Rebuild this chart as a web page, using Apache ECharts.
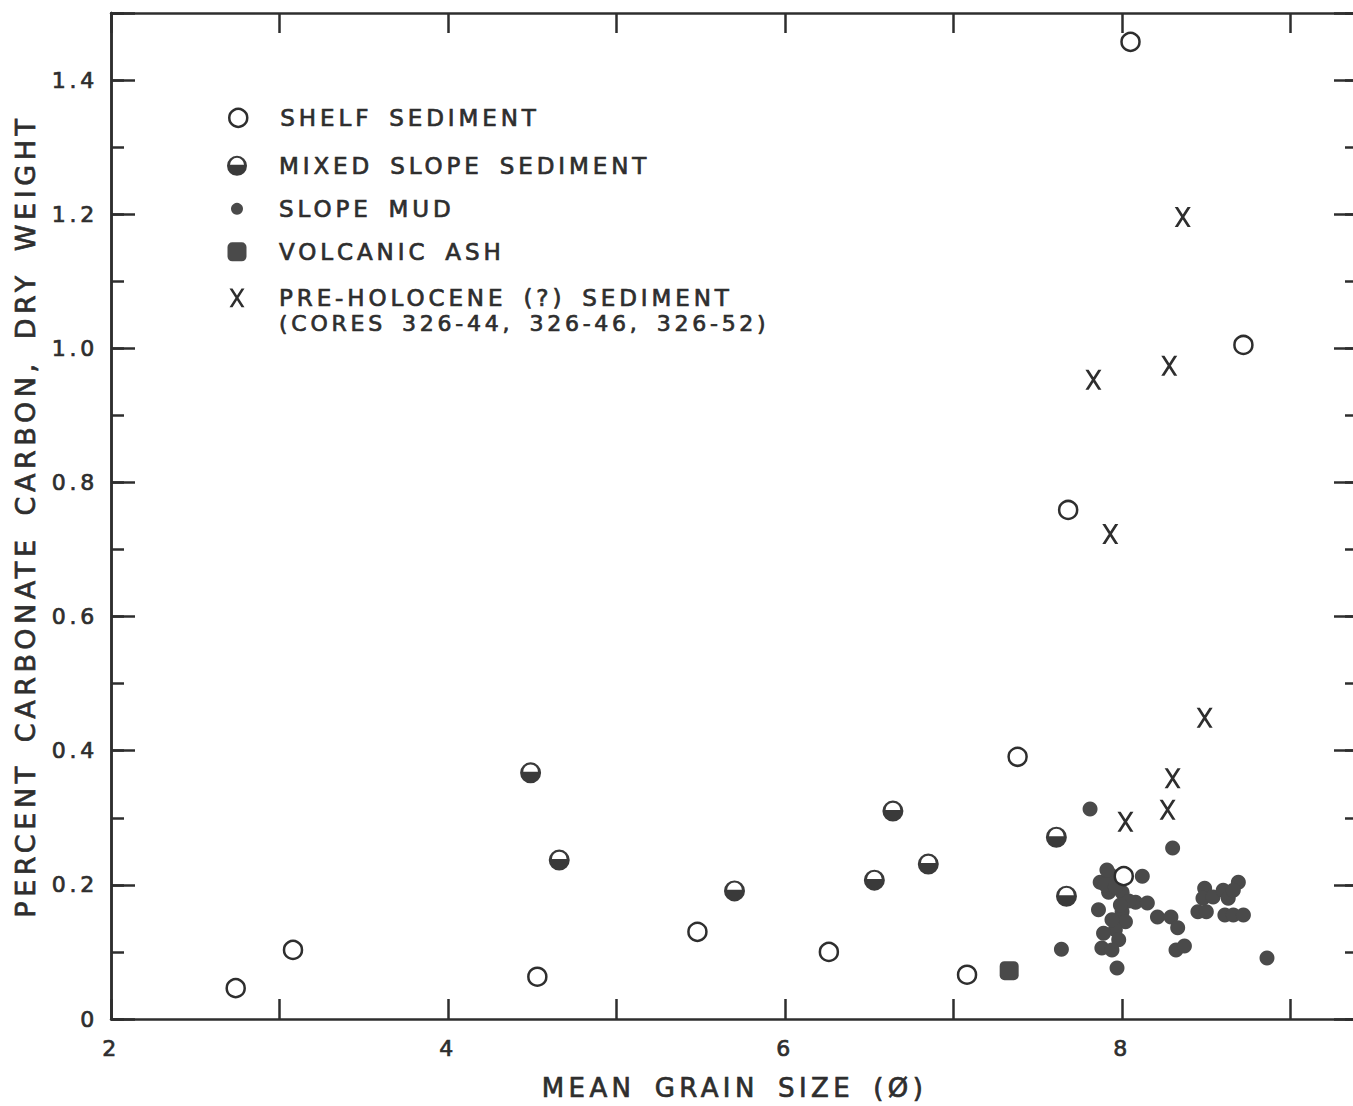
<!DOCTYPE html>
<html>
<head>
<meta charset="utf-8">
<title>Carbonate carbon vs mean grain size</title>
<script src="https://cdn.jsdelivr.net/npm/echarts@6.0.0/dist/echarts.min.js"></script>
<style>
	html, body { margin: 0; padding: 0; background: #fff; }
	#chart { width: 1353px; height: 1106px; }
	/* hand-lettered look: wide letter spacing (svg renderer) */
	#chart text { letter-spacing: 0.17em; word-spacing: 0.25em; }
</style>
</head>
<body>
<div id="chart"></div>
<script>
// ---- data (mean grain size in phi, percent carbonate carbon) ----
var shelfSediment = [
	[2.74, 0.046], [3.08, 0.103], [4.53, 0.063], [5.48, 0.130], [6.26, 0.100],
	[7.08, 0.066], [7.38, 0.391], [7.68, 0.759], [8.01, 0.213], [8.05, 1.457],
	[8.72, 1.005]
];
var mixedSlopeSediment = [
	[4.49, 0.367], [4.66, 0.237], [5.70, 0.191], [6.53, 0.207], [6.64, 0.310],
	[6.85, 0.231], [7.61, 0.271], [7.67, 0.183]
];
var slopeMud = [
	[7.81, 0.313], [8.30, 0.255], [7.64, 0.104], [7.97, 0.076], [8.86, 0.091],
	[7.87, 0.204], [7.93, 0.215], [7.91, 0.222], [7.92, 0.189], [8.00, 0.189],
	[8.12, 0.213], [7.86, 0.163], [8.08, 0.174], [8.15, 0.173], [8.21, 0.152],
	[8.29, 0.152], [8.33, 0.136], [8.00, 0.160], [8.02, 0.145], [7.96, 0.133],
	[7.89, 0.128], [7.98, 0.118], [7.88, 0.106], [7.94, 0.103], [7.94, 0.148],
	[8.32, 0.103], [8.37, 0.109], [8.49, 0.195], [8.48, 0.180], [8.54, 0.182],
	[8.45, 0.160], [8.50, 0.160], [8.60, 0.192], [8.63, 0.180], [8.69, 0.204],
	[8.66, 0.192], [8.61, 0.155], [8.66, 0.155], [8.72, 0.155], [7.90, 0.200],
	[7.96, 0.197], [8.04, 0.176], [7.99, 0.170]
];
var volcanicAsh = [
	[7.33, 0.072]
];
var preHolocene = [
	[8.36, 1.196], [7.83, 0.953], [8.28, 0.974], [7.93, 0.723], [8.49, 0.449],
	[8.30, 0.359], [8.27, 0.312], [8.02, 0.294]
];

var xLabelValues = [2, 4, 6, 8];
var yLabelValues = [0, 0.2, 0.4, 0.6, 0.8, 1.0, 1.2, 1.4];
var yLabelTexts = ['0', '0.2', '0.4', '0.6', '0.8', '1.0', '1.2', '1.4'];

var names = {
	shelf : 'SHELF SEDIMENT',
	mixed : 'MIXED SLOPE SEDIMENT',
	mud : 'SLOPE MUD',
	ash : 'VOLCANIC ASH',
	pre : 'PRE-HOLOCENE (?) SEDIMENT'
};
var preNote = '(CORES 326-44, 326-46, 326-52)';

// ---- styles ----
var FONT = 'DejaVu Sans';
var INK = '#2e2e2e';
var FILL = '#4a4a4a';
var TB = 0.7; // thin outline to thicken the lettering
// dark disc with the upper half left white
var MIXED_SYMBOL = 'path://M0,10A10,10,0,1,1,20,10A10,10,0,1,1,0,10Z M3,9L17,9A7,7,0,0,0,3,9Z';
// lettered "X"
var X_SYMBOL = 'path://M0,0L20,0L100,125L80,125Z M80,0L100,0L20,125L0,125Z';

function xLabel(v) {
	return xLabelValues.indexOf(v) >= 0 ? String(v) : '';
}
function yLabel(v) {
	for (var i = 0; i < yLabelValues.length; i++) {
		if (Math.abs(v - yLabelValues[i]) < 1e-6) {
			return yLabelTexts[i];
		}
	}
	return '';
}

var lineStyle = { color : INK, width : 2.5 };

function xAxisDef(pos) {
	return {
		type : 'value',
		position : pos,
		min : 2,
		max : 9.4,
		interval : 1,
		name : pos == 'bottom' ? 'MEAN GRAIN SIZE (\u00D8)' : '',
		nameLocation : 'middle',
		nameGap : 56,
		nameTextStyle : { fontFamily : FONT, fontSize : 26, color : INK, textBorderColor : INK, textBorderWidth : TB },
		axisLine : { onZero : false, lineStyle : lineStyle },
		axisTick : { inside : true, length : 20, lineStyle : lineStyle },
		axisLabel : {
			show : pos == 'bottom',
			margin : 18,
			fontFamily : FONT,
			fontSize : 22,
			color : INK,
			textBorderColor : INK,
			textBorderWidth : TB,
			formatter : xLabel
		},
		splitLine : { show : false }
	};
}

function yAxisDef(pos, step, tickLen, withLabels) {
	return {
		type : 'value',
		position : pos,
		min : 0,
		max : 1.5,
		interval : step,
		name : withLabels ? 'PERCENT CARBONATE CARBON, DRY WEIGHT' : '',
		nameLocation : 'middle',
		nameGap : 72,
		nameTextStyle : { fontFamily : FONT, fontSize : 27, color : INK, textBorderColor : INK, textBorderWidth : TB },
		axisLine : { onZero : false, lineStyle : lineStyle },
		axisTick : { inside : true, length : tickLen, lineStyle : lineStyle },
		axisLabel : {
			show : withLabels,
			margin : 13,
			fontFamily : FONT,
			fontSize : 22,
			color : INK,
			textBorderColor : INK,
			textBorderWidth : TB,
			formatter : yLabel
		},
		splitLine : { show : false }
	};
}

// legend rows: icon centre y, icon size
var legendRows = [
	{ name : names.shelf, cy : 117, w : 18, h : 18, border : 2.5 },
	{ name : names.mixed, cy : 165, w : 20, h : 20, border : 0 },
	{ name : names.mud, cy : 208, w : 12, h : 12, border : 0 },
	{ name : names.ash, cy : 251, w : 19, h : 19, border : 0 },
	{ name : names.pre, cy : 297, w : 15, h : 19, border : 0 }
];
var ICON_X = 237, TEXT_X = 279;

var legends = legendRows.map(function(r) {
	return {
		data : [ r.name ],
		left : ICON_X - r.w / 2,
		top : r.cy - 11,
		padding : 0,
		itemWidth : r.w,
		itemHeight : r.h,
		selectedMode : false,
		itemStyle : { borderWidth : r.border },
		textStyle : {
			fontFamily : FONT,
			fontSize : 23,
			lineHeight : 22,
			color : INK,
			textBorderColor : INK,
			textBorderWidth : TB,
			padding : [ 0, 0, 0, TEXT_X - (ICON_X + r.w / 2) - 5 ]
		}
	};
});

var myChart = echarts.init(document.getElementById('chart'), null, { renderer : 'svg' });

var option = {
	backgroundColor : '#fff',
	animation : false,
	grid : {
		left : 111,
		top : 13,
		width : 1247,
		height : 1006,
		containLabel : false,
		outerBoundsMode : 'none'
	},
	legend : legends,
	// second line of the last legend entry
	graphic : [ {
		type : 'text',
		x : TEXT_X,
		y : 323,
		style : {
			text : preNote,
			fontFamily : FONT,
			fontSize : 22,
			lineHeight : 20,
			fill : INK,
			stroke : INK,
			lineWidth : TB,
			align : 'left',
			verticalAlign : 'middle'
		}
	} ],
	xAxis : [ xAxisDef('bottom'), xAxisDef('top') ],
	yAxis : [
		yAxisDef('left', 0.2, 24, true),
		yAxisDef('left', 0.1, 13, false),
		yAxisDef('right', 0.2, 24, false),
		yAxisDef('right', 0.1, 13, false)
	],
	series : [ {
		name : names.mud,
		type : 'scatter',
		data : slopeMud,
		symbol : 'circle',
		symbolSize : 15,
		itemStyle : { color : FILL, opacity : 1 }
	}, {
		name : names.ash,
		type : 'scatter',
		data : volcanicAsh,
		symbol : 'roundRect',
		symbolSize : 19,
		itemStyle : { color : FILL, opacity : 1 }
	}, {
		name : names.mixed,
		type : 'scatter',
		data : mixedSlopeSediment,
		symbol : MIXED_SYMBOL,
		symbolSize : 21,
		itemStyle : { color : '#3a3a3a', opacity : 1 }
	}, {
		name : names.shelf,
		type : 'scatter',
		data : shelfSediment,
		symbol : 'circle',
		symbolSize : 18,
		itemStyle : { color : '#fff', borderColor : INK, borderWidth : 2.5, opacity : 1 }
	}, {
		name : names.pre,
		type : 'scatter',
		data : preHolocene,
		symbol : X_SYMBOL,
		symbolSize : [ 16, 20 ],
		itemStyle : { color : INK, opacity : 1 }
	} ]
};
myChart.setOption(option);
</script>
</body>
</html>
